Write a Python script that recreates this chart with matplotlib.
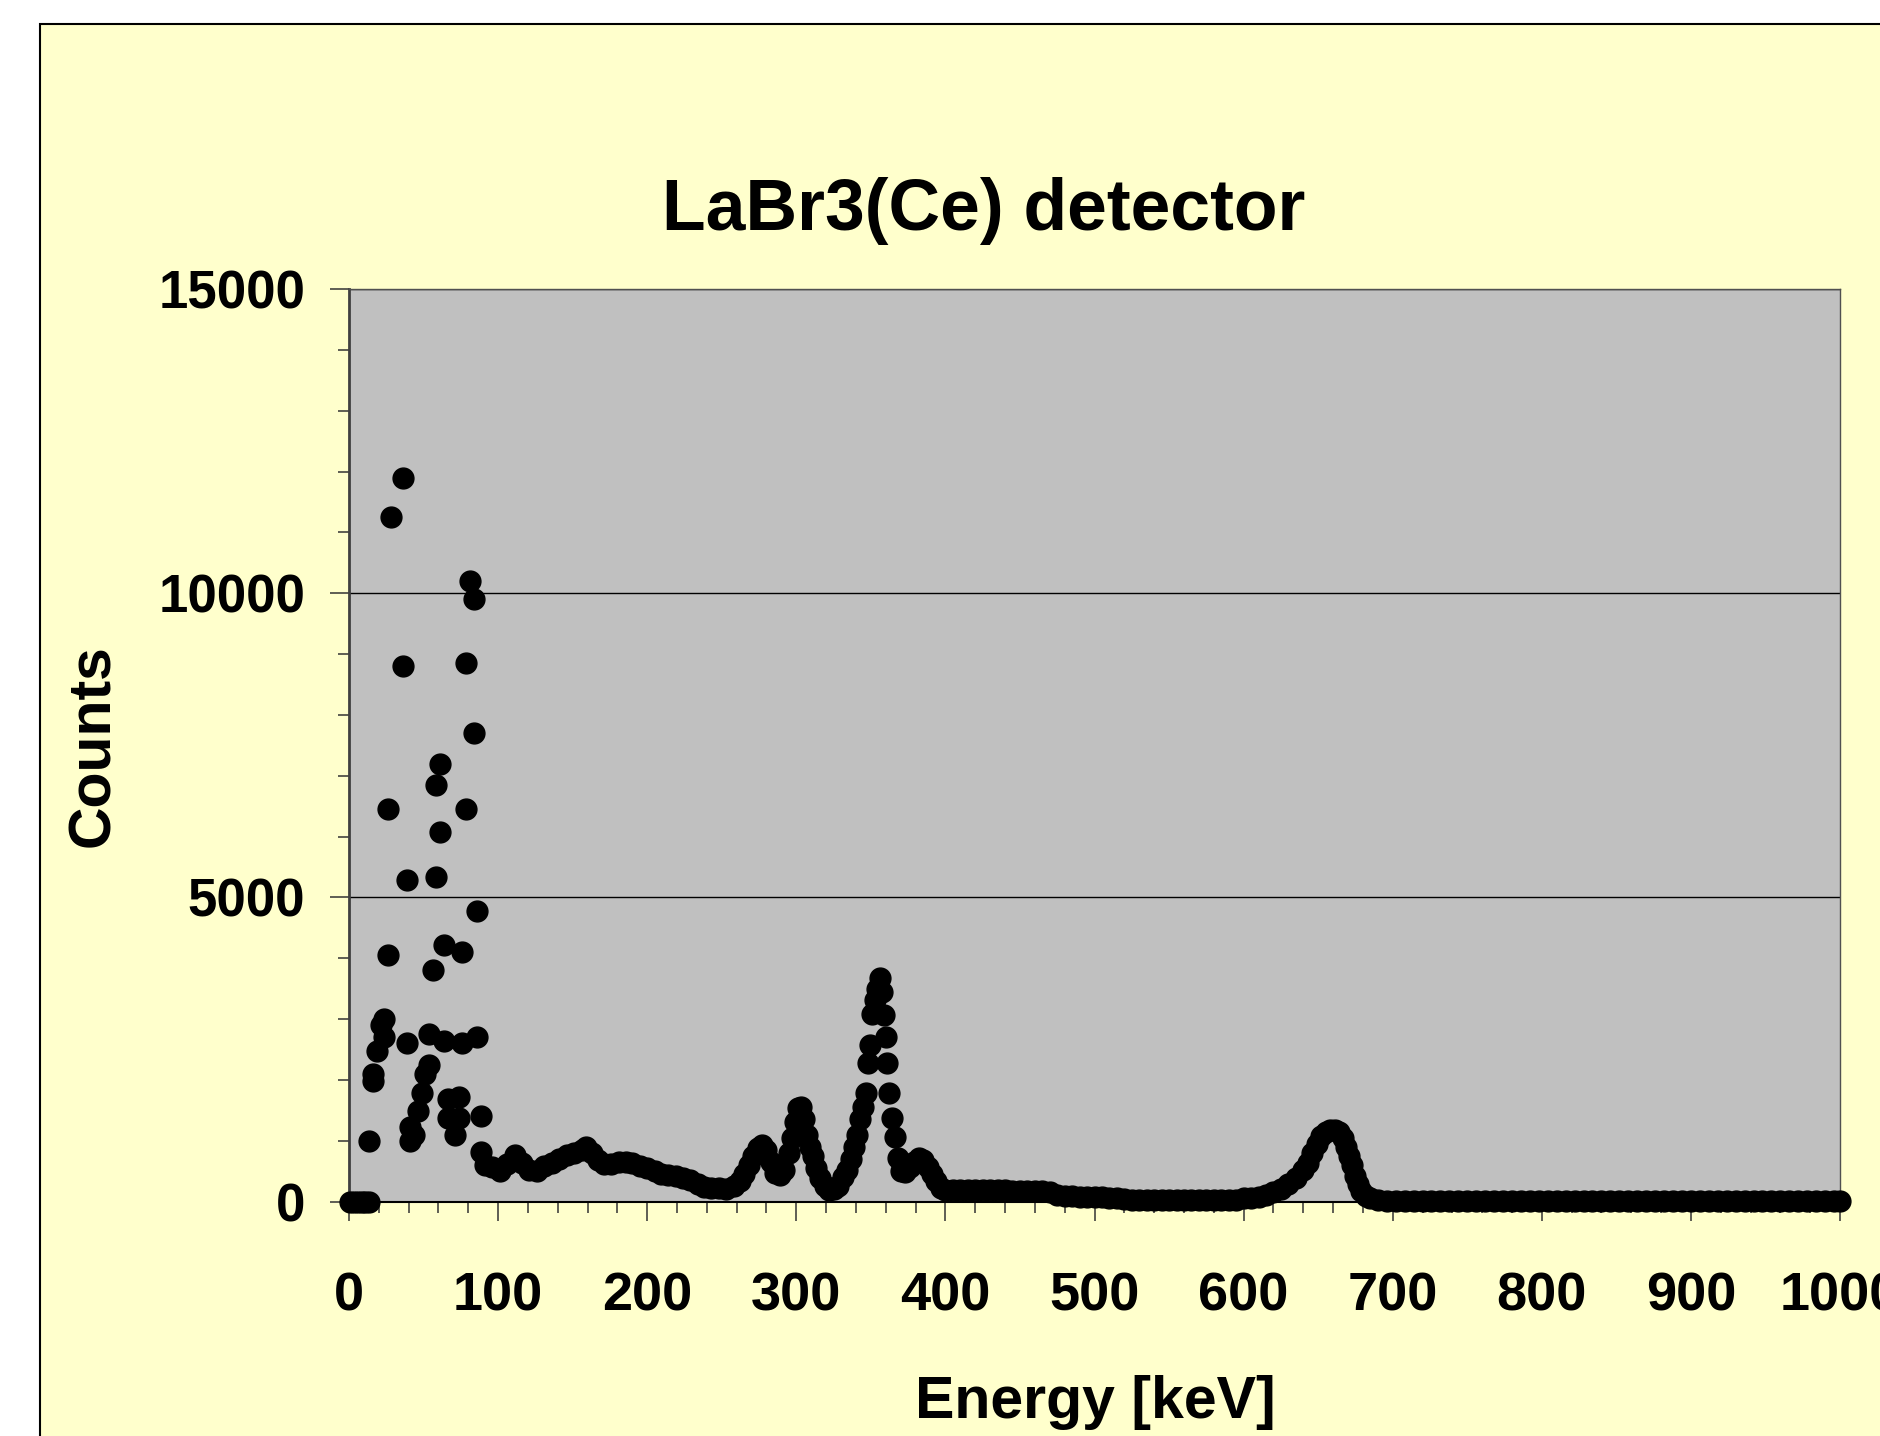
import matplotlib
matplotlib.use('Agg')
import matplotlib.pyplot as plt
from matplotlib.patches import Rectangle
from matplotlib.ticker import MultipleLocator

plt.rcParams['font.family'] = ['Liberation Sans', 'DejaVu Sans']
plt.rcParams['font.weight'] = 'bold'

# Spectrum: energy [keV] and counts
energy_low = [1, 3.5, 6, 8.5, 11, 13.5, 13.4, 16, 16, 18.6, 21.2, 23.7, 23.7,
              26.1, 26.1, 28.4, 36, 36, 38.7, 38.7, 41.1, 43.8, 41.1,
              46.3, 48.7, 51.2, 53.6, 53.6, 56.1, 58.6, 58.6, 61, 61,
              63.5, 63.5, 66.2, 66.2, 71.1, 73.5, 73.5, 76, 76, 78.4, 78.4,
              81.1, 83.6, 83.6, 86.1, 86.1, 88.4, 88.4]
counts_low = [0, 0, 0, 0, 0, 0, 990, 2100, 1980, 2480, 2900, 3000, 2700,
              6450, 4050, 11250, 11900, 8800, 5280, 2600, 1230, 1100, 1000,
              1480, 1790, 2100, 2250, 2750, 3800, 6850, 5330, 7200, 6070,
              4220, 2640, 1680, 1370, 1100, 1720, 1370, 4100, 2600, 8850, 6450,
              10200, 9900, 7700, 4780, 2700, 1410, 820]

energy_mid = [91, 96, 101, 106, 111, 116, 121, 126, 131, 136, 141, 146, 151,
              156, 159, 163, 167, 171, 176, 181, 186, 190, 195, 200, 205,
              209, 214, 219, 224, 229, 234, 238, 243, 248, 253, 258, 262,
              265, 268, 271, 274, 277, 280, 283, 286, 289, 292, 295, 297,
              299, 301, 303, 305, 307, 309, 311, 313, 316, 319, 322, 325,
              328, 331, 334, 337, 339, 341, 343, 345, 346.5, 348, 349.5,
              351, 352.5, 354, 356, 357.5, 358.5, 360, 361, 362.5, 364, 366,
              368, 370, 373, 376, 379, 382, 385, 388, 391, 394, 397, 400]
counts_mid = [600, 560, 500, 620, 760, 640, 510, 500, 580, 640, 700, 760, 800,
              850, 900, 800, 680, 610, 620, 650, 650, 640, 590, 550, 500,
              460, 440, 420, 380, 350, 280, 240, 230, 220, 210, 260, 330,
              450, 600, 750, 880, 930, 850, 650, 470, 430, 520, 800, 1050,
              1300, 1540, 1550, 1350, 1100, 900, 740, 550, 380, 260, 190, 200,
              260, 400, 520, 700, 900, 1100, 1350, 1550, 1780, 2270, 2570,
              3090, 3310, 3500, 3670, 3450, 3070, 2700, 2270, 1780, 1370, 1055,
              710, 500, 480, 560, 650, 720, 690, 560, 460, 340, 230, 190]

energy_high = [405, 410, 415, 420, 425, 430, 435, 440, 445, 450, 455, 460,
               465, 470, 475, 480, 485, 490, 495, 500, 505, 510, 515, 520,
               525, 530, 535, 540, 545, 550, 555, 560, 565, 570, 575, 580,
               585, 590, 595, 600, 605, 610, 615, 620, 625, 630, 635, 640,
               643, 646, 649, 652, 655, 658, 661, 664, 667, 669, 671, 673,
               675, 677, 679, 682, 685, 690]
counts_high = [190, 185, 190, 195, 190, 185, 190, 185, 180, 180, 175, 170,
               165, 160, 100, 90, 85, 80, 80, 75, 70, 60, 50, 40,
               30, 25, 25, 25, 25, 25, 25, 25, 25, 25, 25, 25,
               25, 25, 30, 50, 60, 80, 110, 150, 200, 280, 380, 520,
               640, 800, 950, 1080, 1150, 1170, 1170, 1150, 1050, 900, 750, 600,
               420, 280, 170, 90, 50, 30]

energy_tail = [696, 702, 708, 714, 720, 726, 732, 738, 744, 750, 756, 762,
               768, 774, 780, 786, 792, 798, 804, 810, 816, 822, 828, 834,
               840, 846, 852, 858, 864, 870, 876, 882, 888, 894, 900, 906,
               912, 918, 924, 930, 936, 942, 948, 954, 960, 966, 972, 978,
               984, 990, 996, 1000]
counts_tail = [15, 12, 12, 10, 10, 10, 10, 10, 10, 10, 10, 10,
               10, 10, 10, 10, 10, 10, 10, 10, 10, 10, 10, 10,
               10, 10, 10, 10, 10, 10, 10, 10, 10, 10, 10, 10,
               10, 10, 10, 10, 10, 10, 10, 10, 10, 10, 10, 10,
               10, 10, 10, 10]

energy = energy_low + energy_mid + energy_high + energy_tail
counts = counts_low + counts_mid + counts_high + counts_tail

fig = plt.figure(figsize=(18.8, 14.36), dpi=100)
fig.patch.set_facecolor('white')

# yellow chart area behind everything
bg = Rectangle((40 / 1880, -0.05), 1.2, 1.0 - 24 / 1436 + 0.05,
               transform=fig.transFigure, facecolor='#FFFFCC',
               edgecolor='black', linewidth=1.5, zorder=-10)
fig.patches.append(bg)

ax = fig.add_axes([349 / 1880, 1 - 1201.5 / 1436, 1491 / 1880, 912.5 / 1436])
ax.set_facecolor('#C0C0C0')

ax.plot(energy, counts, 'o', color='black', markersize=15,
        clip_on=False, zorder=3)

ax.set_xlim(0, 1000)
ax.set_ylim(0, 15000)
ax.xaxis.set_major_locator(MultipleLocator(100))
ax.xaxis.set_minor_locator(MultipleLocator(20))
ax.yaxis.set_major_locator(MultipleLocator(5000))
ax.yaxis.set_minor_locator(MultipleLocator(1000))
ax.grid(axis='y', which='major', color='black', linewidth=1)
ax.set_axisbelow(True)

ax.tick_params(which='major', direction='out', length=13.5, width=1.1,
               color='#333333')
ax.tick_params(which='minor', direction='out', length=8, width=1.1,
               color='#333333')
ax.tick_params(axis='x', which='major', pad=37)
ax.tick_params(axis='y', which='major', pad=18)
for lab in ax.get_xticklabels():
    lab.set_fontsize(39)
    lab.set_fontweight('bold')
for lab in ax.get_yticklabels():
    lab.set_fontsize(38)
    lab.set_fontweight('bold')

ax.spines['left'].set_color('#404040')
ax.spines['left'].set_linewidth(2)
ax.spines['bottom'].set_color('black')
ax.spines['bottom'].set_linewidth(1.5)
ax.spines['top'].set_color('#505050')
ax.spines['top'].set_linewidth(1)
ax.spines['right'].set_color('#505050')
ax.spines['right'].set_linewidth(1)

fig.text(984 / 1880, 1 - 230 / 1436, 'LaBr3(Ce) detector', fontsize=51.5,
         fontweight='bold', ha='center', va='baseline')
fig.text(1095 / 1880, 1 - 1418 / 1436, 'Energy [keV]', fontsize=42.5,
         fontweight='bold', ha='center', va='baseline')
fig.text(94 / 1880, 1 - 746 / 1436, 'Counts', fontsize=42.5,
         fontweight='bold', rotation=90, ha='center', va='center')

fig.savefig('out.png', dpi=100)
